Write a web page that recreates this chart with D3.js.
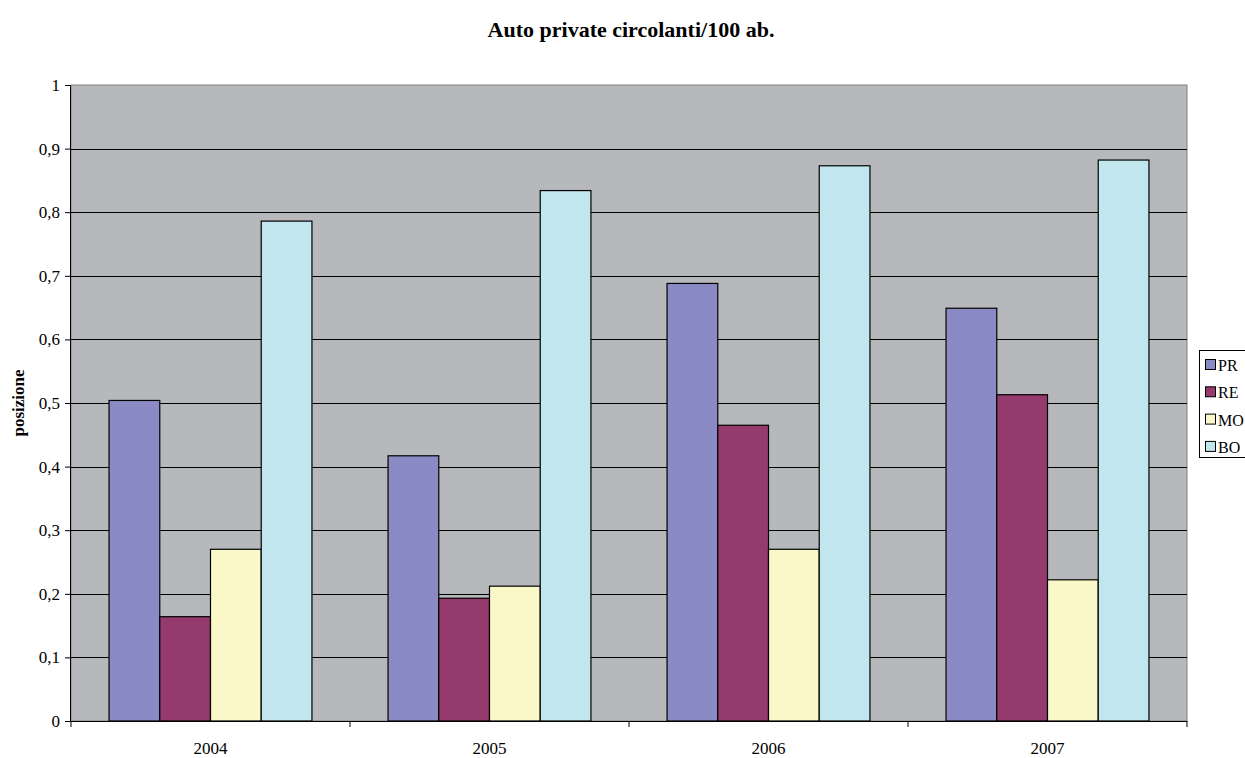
<!DOCTYPE html>
<html><head><meta charset="utf-8">
<script src="https://cdn.jsdelivr.net/npm/d3@7"></script>
<style>body{margin:0;background:#fff}svg{display:block}text{font-family:"Liberation Serif","Times New Roman",serif}</style>
</head><body>
<svg id="c" width="1245" height="758"></svg>
<script>
const years = ["2004","2005","2006","2007"];
const series = ["PR","RE","MO","BO"];
const PR = [0.504, 0.417, 0.688, 0.649];
const RE = [0.164, 0.193, 0.465, 0.513];
const MO = [0.270, 0.212, 0.270, 0.222];
const BO = [0.786, 0.834, 0.873, 0.882];
const yTicks = [0,0.1,0.2,0.3,0.4,0.5,0.6,0.7,0.8,0.9,1];
const colors = ["#8A8BC4","#953A6C","#FAF8C8","#C2E6EE"];
const values = [PR, RE, MO, BO];

const svg = d3.select("#c");
const L=71, R=1187, T=85, B=721;
const x = d3.scaleBand().domain(years).range([L,R]).padding(0);
const y = d3.scaleLinear().domain([0,1]).range([B,T]);

svg.append("rect").attr("x",L).attr("y",T).attr("width",R-L).attr("height",B-T).attr("fill","#B7B8BC").attr("stroke","#808080");
svg.append("g").selectAll("line").data(yTicks.slice(1,-1)).join("line")
  .attr("x1",L).attr("x2",R).attr("y1",d=>Math.round(y(d))+0.5).attr("y2",d=>Math.round(y(d))+0.5)
  .attr("stroke","#000").attr("stroke-width",1);

const bw = x.bandwidth()/(4+1.5);
series.forEach((s,i)=>{
  svg.append("g").selectAll("rect").data(years).join("rect")
    .attr("x",(d)=>x(d)+0.75*bw+i*bw)
    .attr("y",(d,j)=>y(values[i][j]))
    .attr("width",bw)
    .attr("height",(d,j)=>B-y(values[i][j]))
    .attr("fill",colors[i]).attr("stroke","#000").attr("stroke-width",1.2);
});

const ya = d3.axisLeft(y).tickValues(yTicks).tickSize(6).tickFormat(d=>d3.format(".1~f")(d).replace(".",","));
const gy = svg.append("g").attr("transform",`translate(${L},0)`).call(ya);
gy.attr("font-size",null).attr("font-family",null);
gy.select(".domain").attr("stroke","#000").attr("d",`M-0.5,${T}V${B}`);
gy.selectAll(".tick line").attr("stroke","#000");
gy.selectAll(".tick text").attr("font-size",17).attr("fill","#000").attr("x",-11);

const gx = svg.append("g").attr("transform",`translate(0,${B})`);
gx.append("line").attr("x1",L).attr("x2",R).attr("y1",0.5).attr("y2",0.5).attr("stroke","#000");
gx.selectAll(".tk").data([...years.map(d=>x(d)), R]).join("line").attr("class","tk")
  .attr("x1",d=>d).attr("x2",d=>d).attr("y1",0).attr("y2",6).attr("stroke","#000");
gx.selectAll("text").data(years).join("text")
  .attr("x",d=>x(d)+x.bandwidth()/2).attr("y",33).attr("text-anchor","middle")
  .attr("font-size",17).text(d=>d);

svg.append("text").attr("x",631).attr("y",37).attr("text-anchor","middle")
  .attr("font-size",22).attr("font-weight","bold").text("Auto private circolanti/100 ab.");
svg.append("text").attr("transform",`translate(24,${(T+B)/2}) rotate(-90)`).attr("text-anchor","middle")
  .attr("font-size",17).attr("font-weight","bold").text("posizione");

const lg = svg.append("g");
lg.append("rect").attr("x",1199.5).attr("y",350.5).attr("width",60).attr("height",107).attr("fill","#fff").attr("stroke","#000");
series.forEach((s,i)=>{
  const cy = 365 + i*27.3;
  lg.append("rect").attr("x",1205.5).attr("y",cy-5.5).attr("width",10).attr("height",10).attr("fill",colors[i]).attr("stroke","#000");
  lg.append("text").attr("x",1218).attr("y",cy+6).attr("font-size",16).text(s);
});
</script>
</body></html>
